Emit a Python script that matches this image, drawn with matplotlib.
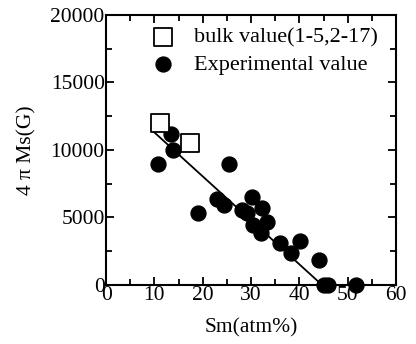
import matplotlib
matplotlib.use("Agg")
import matplotlib.pyplot as plt
from matplotlib.ticker import MultipleLocator

plt.rcParams['font.family'] = ['Liberation Serif', 'DejaVu Serif']

bulk_sm = [11.2, 17.4]
bulk_ms = [11970, 10530]

exp_sm = [13.5, 13.9, 10.7, 25.5, 22.9, 24.4, 19.0, 28.1, 29.1, 30.2, 32.2, 33.3,
          30.5, 32.1, 36.0, 40.2, 38.2, 44.0, 45.1, 46.0, 51.8]
exp_ms = [11150, 9990, 8950, 8950, 6360, 5920, 5350, 5550, 5300, 6540, 5670, 4690,
          4440, 3830, 3090, 3280, 2350, 1850, 0, 0, 0]

fit_sm = [10, 44.7]
fit_ms = [11300, 0]

fig = plt.figure(figsize=(4.16, 3.44), dpi=100)
ax = fig.add_axes([0.255, 0.1715, 0.697, 0.785])

ax.plot(fit_sm, fit_ms, color='black', lw=1.3, zorder=2)
ax.scatter(exp_sm, exp_ms, s=115, color='black', zorder=3, clip_on=False,
           label='Experimental value')
ax.scatter(bulk_sm, bulk_ms, s=150, marker='s', facecolor='white',
           edgecolor='black', linewidth=1.3, zorder=4, label='bulk value(1-5,2-17)')

ax.set_xlim(0, 60)
ax.set_ylim(0, 20000)
ax.xaxis.set_major_locator(MultipleLocator(10))
ax.xaxis.set_minor_locator(MultipleLocator(5))
ax.yaxis.set_major_locator(MultipleLocator(5000))
ax.yaxis.set_minor_locator(MultipleLocator(2500))
ax.tick_params(which='both', direction='in', top=True, right=True, width=1.3,
               labelsize=15.5, pad=1)
ax.tick_params(which='major', length=6)
ax.tick_params(which='minor', length=4)
for s in ax.spines.values():
    s.set_linewidth(1.5)

ax.set_xlabel('Sm(atm%)', fontsize=15.5, labelpad=9)
ax.set_ylabel('4 π Ms(G)', fontsize=15.5, labelpad=10)

handles, labels = ax.get_legend_handles_labels()
ax.legend(handles[::-1], labels[::-1], loc='upper left', bbox_to_anchor=(0.15, 0.955),
          frameon=False, fontsize=16, handletextpad=0.8, borderaxespad=0.0,
          labelspacing=0.3, borderpad=0.0, handlelength=1.2)

fig.savefig('out.png', dpi=100)
